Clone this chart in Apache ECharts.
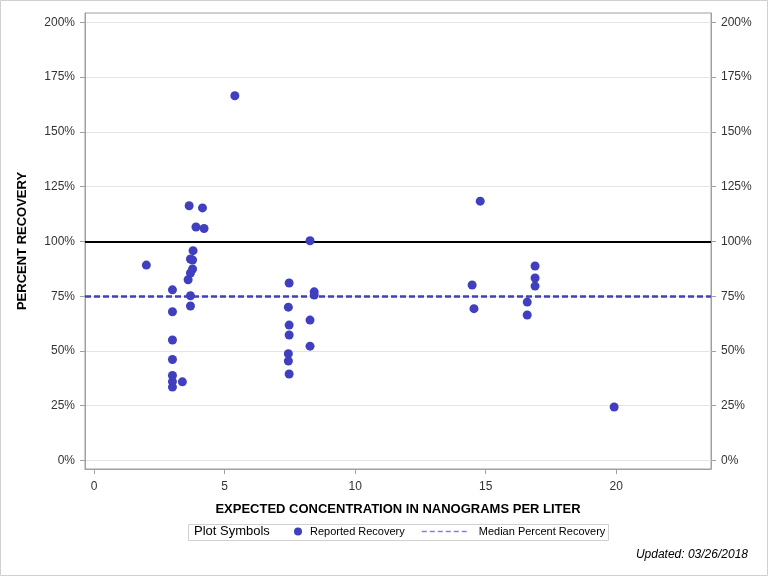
<!DOCTYPE html>
<html>
<head>
<meta charset="utf-8">
<script src="https://cdn.jsdelivr.net/npm/echarts@6/dist/echarts.min.js"></script>
<style>
html,body{margin:0;padding:0;background:#fff;}
#chart{width:768px;height:576px;}
</style>
</head>
<body>
<div id="chart"></div>
<script>
// Expected concentration (ng/L) and percent recovery
const concentration = [
  2.0, 3.64, 4.15, 3.9, 4.21, 3.79, 3.69, 3.77, 3.77, 3.69, 3.6, 3.0, 3.69, 3.69, 3.0, 3.0,
  3.0, 3.0, 3.0, 3.0, 3.38, 5.39,
  8.27, 7.47, 8.43, 8.43, 7.44, 7.47, 7.47, 8.27, 8.27, 7.44, 7.44, 7.47,
  14.79, 14.48, 14.55, 16.89, 16.89, 16.89, 16.59, 16.59, 19.92
];
const recovery = [
  89.2, 116.3, 115.3, 106.6, 105.9, 95.8, 92.0, 91.5, 87.4, 85.6, 82.5, 77.9, 75.2, 70.5, 67.9, 55.0,
  46.1, 38.8, 36.0, 33.5, 35.9, 166.5,
  100.3, 81.0, 77.0, 75.5, 70.0, 61.8, 57.3, 64.1, 52.2, 48.7, 45.4, 39.5,
  118.4, 80.1, 69.3, 88.8, 83.3, 79.6, 72.3, 66.4, 24.4
];
const referenceLevel = 100;
const medianRecovery = 75;
const yTicks = [0, 25, 50, 75, 100, 125, 150, 175, 200];
const xTicks = [0, 5, 10, 15, 20];

const points = concentration.map((c, i) => [c, recovery[i]]);
const FONT = "'Liberation Sans', Arial, sans-serif";
const BLUE = '#3F3FBF';

const chart = echarts.init(document.getElementById('chart'), null, {renderer: 'canvas'});

const yAxisBase = {
  type: 'value',
  min: -3.9,
  max: 204.3,
  axisLine: {show: true, onZero: false, lineStyle: {color: '#a0a0a0', width: 1}},
  axisTick: {show: true, inside: false, length: 5, customValues: yTicks, lineStyle: {color: '#a0a0a0'}},
  axisLabel: {customValues: yTicks, formatter: '{value}%', color: '#333', fontSize: 12, fontFamily: FONT, margin: 10},
};

chart.setOption({
  animation: false,
  backgroundColor: '#fff',
  grid: {left: 85, right: 57, top: 13, bottom: 107, show: true, borderColor: '#a0a0a0', borderWidth: 1, backgroundColor: 'transparent'},
  xAxis: {
    type: 'value',
    min: -0.35,
    max: 23.63,
    name: 'EXPECTED CONCENTRATION IN NANOGRAMS PER LITER',
    nameLocation: 'middle',
    nameGap: 34,
    nameTextStyle: {fontWeight: 'bold', fontSize: 13, color: '#000', fontFamily: FONT},
    axisLine: {show: true, onZero: false, lineStyle: {color: '#a0a0a0', width: 1}},
    axisTick: {show: true, inside: false, length: 5, customValues: xTicks, lineStyle: {color: '#a0a0a0'}},
    axisLabel: {customValues: xTicks, color: '#333', fontSize: 12, fontFamily: FONT, margin: 12},
    splitLine: {show: false}
  },
  yAxis: [
    Object.assign({}, yAxisBase, {
      position: 'left',
      name: 'PERCENT RECOVERY',
      nameLocation: 'middle',
      nameRotate: 90,
      nameGap: 56,
      nameTextStyle: {fontWeight: 'bold', fontSize: 13, color: '#000', fontFamily: FONT},
      splitLine: {show: true, lineStyle: {color: '#e4e4e4', width: 1}}
    }),
    Object.assign({}, yAxisBase, {
      position: 'right',
      splitLine: {show: false}
    })
  ],
  legend: [
    {
      data: ['Reported Recovery'],
      left: 294, top: 526, padding: 0,
      itemWidth: 14, itemHeight: 8,
      textStyle: {fontSize: 11, color: '#000', fontFamily: FONT}
    },
    {
      data: [{
        name: 'Median Percent Recovery',
        itemStyle: {color: 'rgba(0,0,0,0)', opacity: 0, borderWidth: 0}
      }],
      lineStyle: {color: '#7f7fe6', type: [5, 3], width: 1.5},
      left: 421, top: 526, padding: 0,
      itemWidth: 45, itemHeight: 8,
      textStyle: {fontSize: 11, color: '#000', fontFamily: FONT, padding: [0, 0, 0, 7]}
    }
  ],
  graphic: [
    {type: 'rect', shape: {x: 0.5, y: 0.5, width: 767, height: 575}, style: {fill: 'none', stroke: '#d0d0d0', lineWidth: 1}, silent: true},
    {type: 'rect', shape: {x: 188.5, y: 524.5, width: 420, height: 16}, style: {fill: 'none', stroke: '#d0d0d0', lineWidth: 1}, silent: true},
    {type: 'text', left: 194, top: 525, style: {text: 'Plot Symbols', font: "13px 'Liberation Sans', Arial, sans-serif", fill: '#000'}},
    {type: 'text', right: 20, top: 549, style: {text: 'Updated: 03/26/2018', font: "italic 12px 'Liberation Sans', Arial, sans-serif", fill: '#000'}}
  ],
  series: [
    {
      name: 'Median Percent Recovery',
      type: 'line',
      data: [],
      symbol: 'none',
      z: 1,
      lineStyle: {color: BLUE, type: [6, 3], width: 2.5},
      itemStyle: {color: BLUE},
      markLine: {
        silent: true, symbol: 'none', label: {show: false},
        lineStyle: {color: BLUE, type: [6, 3], width: 2.5},
        data: [{yAxis: medianRecovery}]
      }
    },
    {
      name: 'Reported Recovery',
      type: 'scatter',
      data: points,
      symbol: 'circle',
      symbolSize: 9,
      z: 3,
      itemStyle: {color: BLUE, opacity: 1},
      markLine: {
        silent: true, symbol: 'none', label: {show: false}, z: 1,
        lineStyle: {color: '#000', type: 'solid', width: 2},
        data: [{yAxis: referenceLevel}]
      }
    }
  ]
});
</script>
</body>
</html>
